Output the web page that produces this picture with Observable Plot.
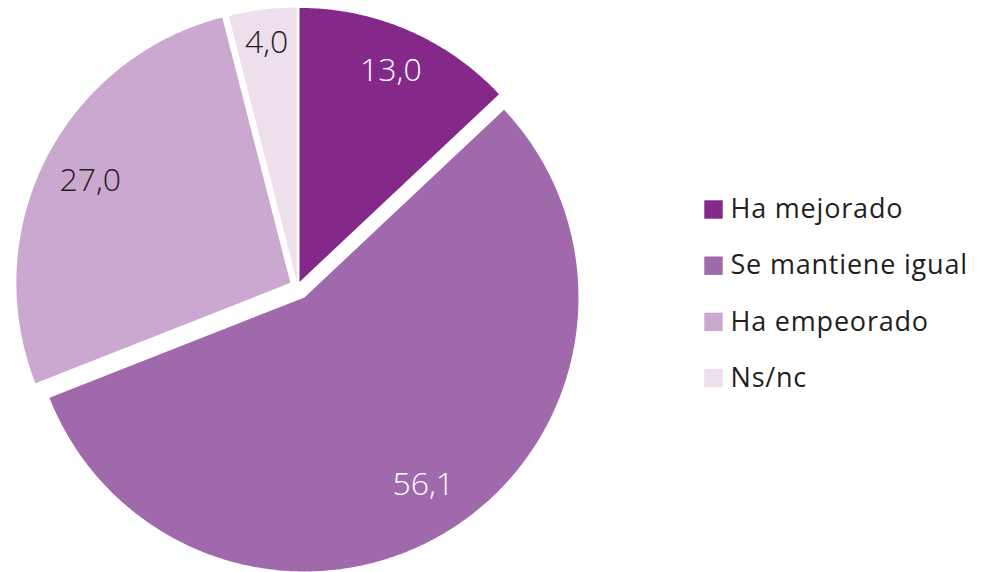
<!DOCTYPE html>
<html>
<head>
<meta charset="utf-8">
<script src="https://cdn.jsdelivr.net/npm/d3@7"></script>
<script src="https://cdn.jsdelivr.net/npm/@observablehq/plot@0.6"></script>
<style>
  html, body { margin: 0; padding: 0; background: #fff; }
  #chart svg { display: block; }
</style>
</head>
<body>
<div id="chart"></div>
<script>
// ---- data ----
const categories = ["Ha mejorado", "Se mantiene igual", "Ha empeorado", "Ns/nc"];
const values = [13.0, 56.1, 27.0, 4.0];
const valueLabels = ["13,0", "56,1", "27,0", "4,0"];

// ---- style ----
const colors = ["#84288A", "#A069AB", "#CBA8CF", "#EEDFEC"];
const labelColors = ["#ffffff", "#ffffff", "#231F20", "#231F20"];
const explodePx = [5, 13, 8, 5];
const labelRadius = [0.84, 0.81, 0.82, 0.88];
const W = 982, H = 572;
const R = 274, CX = 297, CY = 286;   // pie radius and centre in px
const FONT = "'Open Sans', sans-serif";

// ---- geometry from d3.pie ----
const arcs = d3.pie().sort(null).value(d => d)(values);
const slicePts = [];
const labelData = [];
arcs.forEach((a, i) => {
  const mid = (a.startAngle + a.endAngle) / 2;
  const ox = Math.sin(mid) * explodePx[i] / R;
  const oy = Math.cos(mid) * explodePx[i] / R;
  const cat = categories[i];
  slicePts.push({cat, x: ox, y: oy});
  const N = Math.max(8, Math.ceil((a.endAngle - a.startAngle) / 0.01));
  for (let k = 0; k <= N; k++) {
    const t = a.startAngle + (a.endAngle - a.startAngle) * k / N;
    slicePts.push({cat, x: ox + Math.sin(t), y: oy + Math.cos(t)});
  }
  slicePts.push({cat, x: ox, y: oy});
  labelData.push({
    cat, text: valueLabels[i], color: labelColors[i],
    x: ox + Math.sin(mid) * labelRadius[i],
    y: oy + Math.cos(mid) * labelRadius[i]
  });
});

// legend rows (pixel layout converted to data units)
const legendData = categories.map((c, i) => ({
  cat: c,
  y: (CY - (209 + i * 56.2)) / R,
  xs: (713 - CX) / R,
  xt: (730 - CX) / R
}));

const chart = Plot.plot({
  width: W,
  height: H,
  margin: 0,
  style: {fontFamily: FONT, background: "#fff"},
  x: {domain: [-CX / R, (W - CX) / R], axis: null},
  y: {domain: [-(H - CY) / R, CY / R], axis: null},
  color: {domain: categories, range: colors},
  marks: [
    Plot.line(slicePts, {x: "x", y: "y", z: "cat", fill: "cat", stroke: "none", curve: "linear"}),
    Plot.text(labelData.filter(d => d.color === "#ffffff"), {
      x: "x", y: "y", text: "text", fill: "#ffffff", fontSize: 32, fontWeight: 300, fontFamily: FONT
    }),
    Plot.text(labelData.filter(d => d.color !== "#ffffff"), {
      x: "x", y: "y", text: "text", fill: "#231F20", fontSize: 32, fontWeight: 300, fontFamily: FONT
    }),
    Plot.dot(legendData, {x: "xs", y: "y", fill: "cat", symbol: "square", r: 10.4, stroke: "none"}),
    Plot.text(legendData, {
      x: "xt", y: "y", text: "cat", textAnchor: "start", fill: "#231F20",
      fontSize: 27, fontWeight: 400, fontFamily: FONT
    })
  ]
});
// widen legend tracking slightly, as in the reference typeface
d3.select(chart).selectAll("text")
  .filter(function() { return categories.includes(this.textContent); })
  .style("letter-spacing", "0.8px");
document.getElementById("chart").appendChild(chart);
</script>
</body>
</html>
